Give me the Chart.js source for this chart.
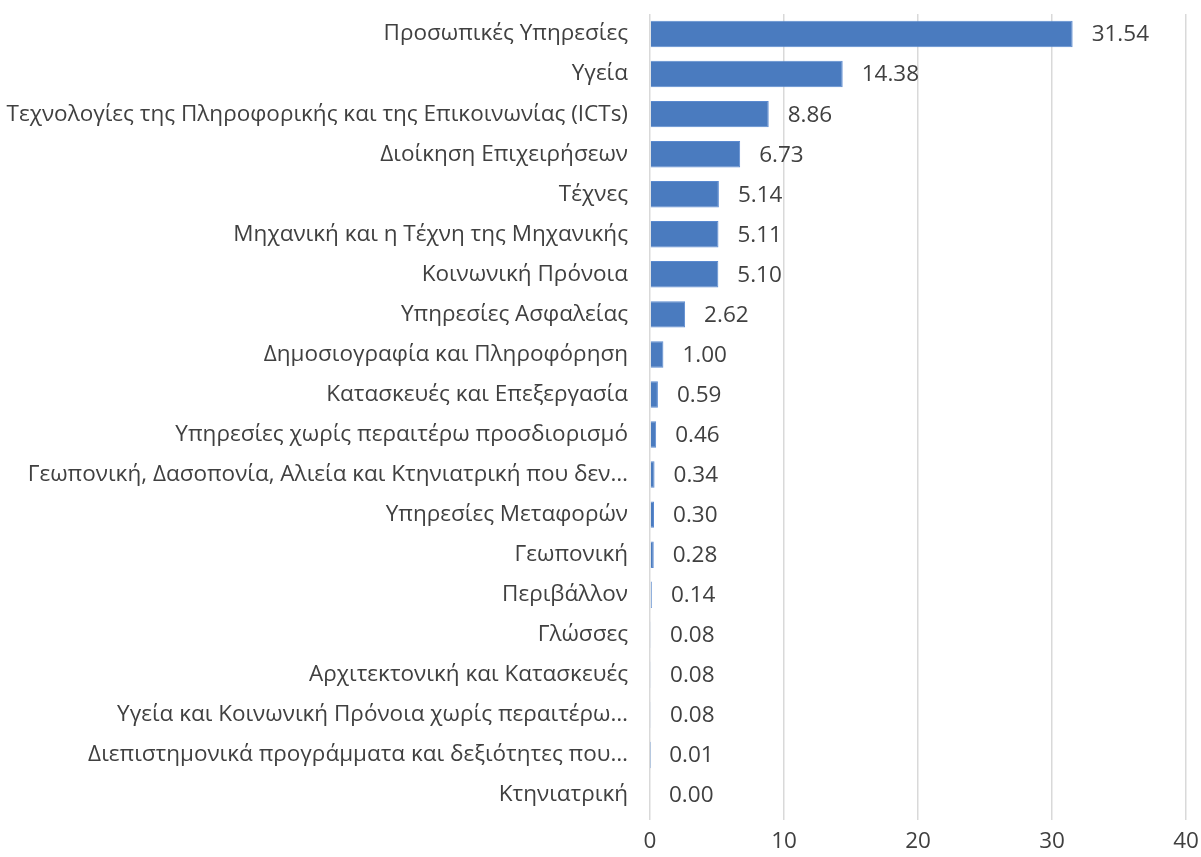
<!DOCTYPE html>
<html>
<head>
<meta charset="utf-8">
<script src="https://cdn.jsdelivr.net/npm/chart.js@4.4.1/dist/chart.umd.min.js"></script>
<style>
  html, body { margin: 0; padding: 0; background: #fff; }
  #wrap { width: 1201px; height: 857px; }
</style>
</head>
<body>
<div id="wrap"><canvas id="barChart" width="1201" height="857"></canvas></div>
<script>
const categories = [
    'Προσωπικές Υπηρεσίες',
    'Υγεία',
    'Τεχνολογίες της Πληροφορικής και της Επικοινωνίας (ICTs)',
    'Διοίκηση Επιχειρήσεων',
    'Τέχνες',
    'Μηχανική και η Τέχνη της Μηχανικής',
    'Κοινωνική Πρόνοια',
    'Υπηρεσίες Ασφαλείας',
    'Δημοσιογραφία και Πληροφόρηση',
    'Κατασκευές και Επεξεργασία',
    'Υπηρεσίες χωρίς περαιτέρω προσδιορισμό',
    'Γεωπονική, Δασοπονία, Αλιεία και Κτηνιατρική που δεν…',
    'Υπηρεσίες Μεταφορών',
    'Γεωπονική',
    'Περιβάλλον',
    'Γλώσσες',
    'Αρχιτεκτονική και Κατασκευές',
    'Υγεία και Κοινωνική Πρόνοια χωρίς περαιτέρω…',
    'Διεπιστημονικά προγράμματα και δεξιότητες που…',
    'Κτηνιατρική'
];
const values = [31.54, 14.38, 8.86, 6.73, 5.14, 5.11, 5.10, 2.62, 1.00, 0.59, 0.46, 0.34, 0.30, 0.28, 0.14, 0.08, 0.08, 0.08, 0.01, 0.00];
const xTicks = [0, 10, 20, 30, 40];

const textColor = '#404040';
const fontFamily = '"Open Sans", "Noto Sans", sans-serif';
const fontSize = 22.5;

// value labels to the right of each bar
const valueLabels = {
    id: 'valueLabels',
    afterDatasetsDraw(chart) {
        const ctx = chart.ctx;
        const meta = chart.getDatasetMeta(0);
        ctx.save();
        ctx.font = fontSize + 'px ' + fontFamily;
        ctx.fillStyle = textColor;
        ctx.textAlign = 'left';
        ctx.textBaseline = 'middle';
        meta.data.forEach((bar, i) => {
            ctx.fillText(values[i].toFixed(2), bar.x + 19, bar.y + 1);
        });
        ctx.restore();
    }
};

new Chart(document.getElementById('barChart'), {
    type: 'bar',
    data: {
        labels: categories,
        datasets: [{
            data: values,
            backgroundColor: '#4a7bbf',
            borderColor: '#5b8ad0',
            borderWidth: 1,
            barPercentage: 0.66,
            categoryPercentage: 1.0
        }]
    },
    options: {
        indexAxis: 'y',
        responsive: false,
        animation: false,
        layout: { padding: { top: 14, right: 15, left: 0, bottom: 0 } },
        plugins: {
            legend: { display: false },
            tooltip: { enabled: false }
        },
        scales: {
            x: {
                min: 0,
                max: 40,
                afterBuildTicks: s => { s.ticks = xTicks.map(v => ({ value: v })); },
                afterFit: s => { s.height = 42; s.paddingLeft = 0; s.paddingRight = 0; },
                border: { display: false },
                grid: { color: '#d9d9d9', lineWidth: 1.5, tickLength: 5 },
                ticks: { color: textColor, font: { family: fontFamily, size: fontSize }, padding: 8 }
            },
            y: {
                afterFit: s => { s.width = 650; s.paddingTop = 0; s.paddingBottom = 0; },
                border: { display: false },
                grid: { display: false },
                ticks: { color: textColor, font: { family: fontFamily, size: fontSize }, padding: 14, autoSkip: false }
            }
        }
    },
    plugins: [valueLabels]
});
</script>
</body>
</html>
